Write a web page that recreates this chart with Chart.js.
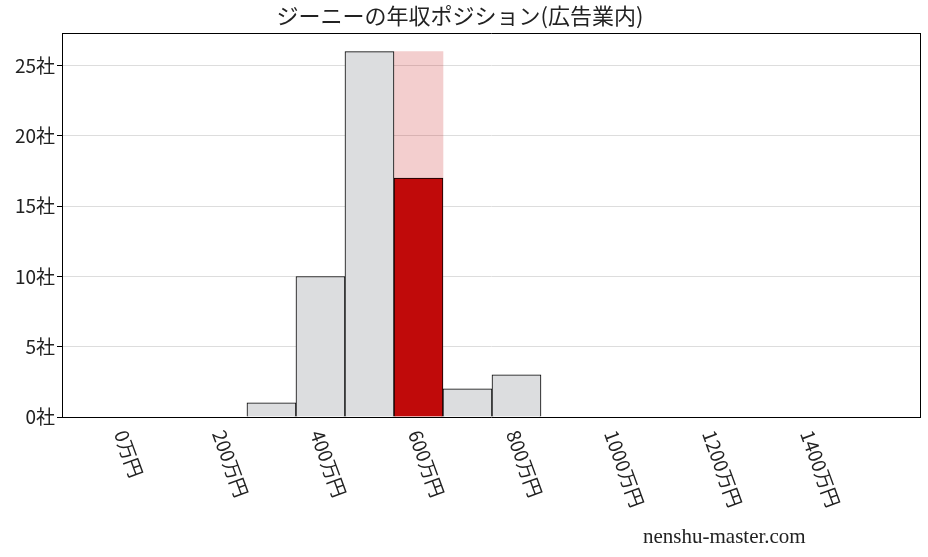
<!DOCTYPE html>
<html>
<head>
<meta charset="utf-8">
<script src="https://cdn.jsdelivr.net/npm/chart.js@4/dist/chart.umd.min.js"></script>
<style>
  html, body { margin: 0; padding: 0; background: #fff; }
  #wrap { width: 928px; height: 557px; position: relative; }
</style>
</head>
<body>
<div id="wrap"><canvas id="c"></canvas></div>
<script>
// Histogram data (bin centers in 万円, company counts)
const binCenters = [300, 400, 500, 600, 700, 800];
const otherCounts = [1, 10, 26, 0, 2, 3];
const ownBinCenter = [600];
const ownCount = [17];
const ownBinTotal = [26];
const xTicks = [0, 200, 400, 600, 800, 1000, 1200, 1400];
const yTicks = [0, 5, 10, 15, 20, 25];

const jpFont = "'Noto Sans CJK JP', sans-serif";

// rotated x labels, text running down-right from the tick
const rotatedLabels = {
  id: 'rotatedLabels',
  afterDraw(chart) {
    const ctx = chart.ctx;
    const x = chart.scales.x;
    ctx.save();
    ctx.font = "19px " + jpFont;
    ctx.fillStyle = '#222';
    ctx.textBaseline = 'middle';
    xTicks.forEach(v => {
      const px = x.getPixelForValue(v);
      ctx.save();
      ctx.translate(px - 4, chart.chartArea.bottom + 14);
      ctx.rotate(70 * Math.PI / 180);
      ctx.fillText(v + '万円', 0, 0);
      ctx.restore();
    });
    ctx.font = "21px 'Liberation Serif', serif";
    ctx.fillText('nenshu-master.com', 643, 537);
    ctx.restore();
  }
};

new Chart(document.getElementById('c'), {
  type: 'bar',
  data: {
    datasets: [
      {
        data: binCenters.map((x, i) => ({ x, y: otherCounts[i] })),
        backgroundColor: '#dcdddf',
        borderColor: '#000',
        borderWidth: 1,
        barPercentage: 1,
        categoryPercentage: 1
      },
      {
        data: ownBinCenter.map((x, i) => ({ x, y: ownCount[i] })),
        backgroundColor: '#c00a0a',
        borderColor: '#000',
        borderWidth: 1,
        barPercentage: 1,
        categoryPercentage: 1
      },
      {
        data: ownBinCenter.map((x, i) => ({ x, y: ownBinTotal[i] - ownCount[i] })),
        backgroundColor: 'rgba(200, 30, 30, 0.22)',
        borderWidth: 0,
        barPercentage: 1,
        categoryPercentage: 1
      }
    ]
  },
  options: {
    responsive: true,
    maintainAspectRatio: false,
    animation: false,
    layout: { padding: { right: 8 } },
    plugins: {
      legend: { display: false },
      tooltip: { enabled: false },
      title: {
        display: true,
        text: 'ジーニーの年収ポジション(広告業内)',
        color: '#222',
        font: { family: jpFont, size: 22, weight: 'normal' },
        padding: { top: 2, bottom: 5 }
      }
    },
    scales: {
      x: {
        type: 'linear',
        stacked: true,
        min: -18,
        max: 1514,
        afterBuildTicks: s => { s.ticks = xTicks.map(v => ({ value: v })); },
        afterFit: s => { s.height = 140; },
        ticks: { callback: () => '', padding: 0 },
        grid: { display: false, drawTicks: true, tickLength: 5, tickColor: '#000' },
        border: { color: '#000' }
      },
      y: {
        stacked: true,
        min: 0,
        max: 27.3,
        afterBuildTicks: s => { s.ticks = yTicks.map(v => ({ value: v })); },
        afterFit: s => { s.width = 62; },
        ticks: {
          color: '#222',
          font: { family: jpFont, size: 19 },
          callback: v => v + '社',
          padding: 2
        },
        grid: { color: '#dddddd', tickLength: 5, tickColor: '#000' },
        border: { color: '#000' }
      },
      y2: {
        position: 'right',
        min: 0, max: 1,
        ticks: { display: false },
        grid: { display: false, drawTicks: false },
        border: { color: '#000' },
        afterFit: s => { s.width = 0; }
      },
      x2: {
        position: 'top',
        type: 'linear',
        min: 0, max: 1,
        ticks: { display: false },
        grid: { display: false, drawTicks: false },
        border: { color: '#000' },
        afterFit: s => { s.height = 0; }
      }
    }
  },
  plugins: [rotatedLabels]
});
</script>
</body>
</html>
